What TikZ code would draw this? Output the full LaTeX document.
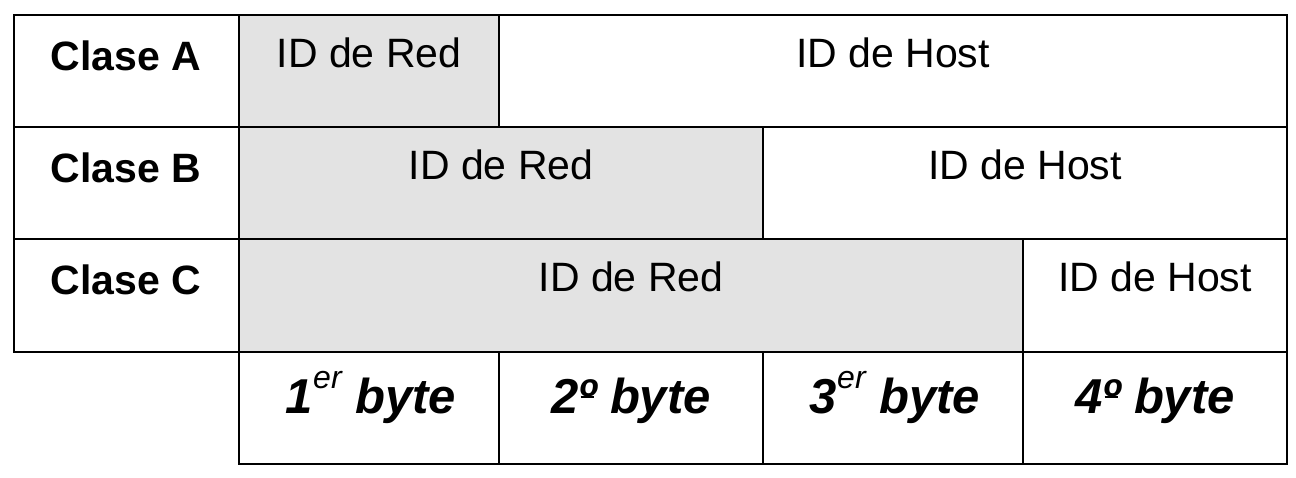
\documentclass[tikz,border=0pt]{standalone}
\usepackage{fontspec}
\setmainfont{Liberation Sans}
\definecolor{celda}{RGB}{227,227,227}
% Raised suffix and underlined ordinal for the byte labels
\newcommand{\sufijo}[1]{\raisebox{0.5em}{\fontsize{32}{32}\selectfont\mdseries #1}}
\newcommand{\ordinal}{\ooalign{º\cr\hidewidth\rule[0.3em]{0.28em}{0.05em}\hidewidth\cr}}

\begin{document}
\begin{tikzpicture}[x=1pt, y=-1pt, line width=2pt]
        % Styles for the cells and the texts
        \tikzstyle{gris}=[fill=celda, draw=black]
        \tikzstyle{blanco}=[fill=white, draw=black]
        \tikzstyle{clase}=[anchor=base, font=\fontsize{41}{49}\selectfont\bfseries]
        \tikzstyle{campo}=[anchor=base, font=\fontsize{41}{49}\selectfont]
        \tikzstyle{octeto}=[anchor=base, font=\fontsize{49}{58}\selectfont\bfseries\itshape]

        \useasboundingbox (0,0) rectangle (1296,478);

        % Class A
        \draw[blanco] (14,15) rectangle (239,127);
        \draw[gris] (239,15) rectangle (499,127);
        \draw[blanco] (499,15) rectangle (1287,127);
        \node[clase] (claseA) at (126,71) {Clase A};
        \node[campo] (redA) at (369,68) {ID de Red};
        \node[campo] (hostA) at (893,68) {ID de Host};

        % Class B
        \draw[blanco] (14,127) rectangle (239,239);
        \draw[gris] (239,127) rectangle (763,239);
        \draw[blanco] (763,127) rectangle (1287,239);
        \node[clase] (claseB) at (126,183) {Clase B};
        \node[campo] (redB) at (501,180) {ID de Red};
        \node[campo] (hostB) at (1025,180) {ID de Host};

        % Class C
        \draw[blanco] (14,239) rectangle (239,352);
        \draw[gris] (239,239) rectangle (1023,352);
        \draw[blanco] (1023,239) rectangle (1287,352);
        \node[clase] (claseC) at (126,295) {Clase C};
        \node[campo] (redC) at (631,292) {ID de Red};
        \node[campo] (hostC) at (1155,292) {ID de Host};

        % Bytes
        \draw[blanco] (239,352) rectangle (499,464);
        \draw[blanco] (499,352) rectangle (763,464);
        \draw[blanco] (763,352) rectangle (1023,464);
        \draw[blanco] (1023,352) rectangle (1287,464);
        \node[octeto] (byte1) at (371,413) {1\sufijo{er} byte};
        \node[octeto] (byte2) at (631,413) {2\ordinal{} byte};
        \node[octeto] (byte3) at (895,413) {3\sufijo{er} byte};
        \node[octeto] (byte4) at (1155,413) {4\ordinal{} byte};
    \end{tikzpicture}
\end{document}
